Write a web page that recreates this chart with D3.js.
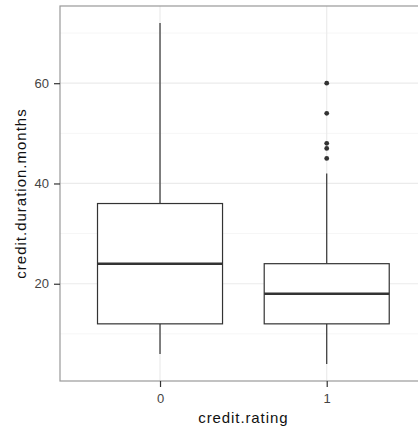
<!DOCTYPE html>
<html>
<head>
<meta charset="utf-8">
<script src="https://cdn.jsdelivr.net/npm/d3@7"></script>
<style>
  html, body { margin: 0; padding: 0; background: #fff; overflow: hidden; }
  svg { display: block; font-family: "Liberation Sans", Arial, sans-serif; }
</style>
</head>
<body>
<svg id="chart" width="418" height="434"></svg>
<script>
// box stats (credit.duration.months by credit.rating)
const categories = ["0", "1"];
const lowerWhisker = [6, 4];
const q1 = [12, 12];
const median = [24, 18];
const q3 = [36, 24];
const upperWhisker = [72, 42];
const outliers = [[], [60, 54, 48, 47, 45]];
const yTicks = [20, 40, 60];
const yMinor = [10, 30, 50, 70];

const svg = d3.select("#chart");
const pLeft = 60, pTop = 6, pBottom = 381;
const step = 166.7;
const pRight = pLeft + step * 2.2;

// ggplot-like discrete scale with 0.6 expansion each side
const x = d3.scaleLinear().domain([0.4, 2.6]).range([pLeft, pRight]);
const y = d3.scaleLinear().domain([0.6, 75.4]).range([pBottom, pTop]);
const boxW = step * 0.75;

const g = svg.append("g");

g.append("rect")
  .attr("x", pLeft).attr("y", pTop)
  .attr("width", pRight - pLeft).attr("height", pBottom - pTop)
  .attr("fill", "#fff");

// grid
g.selectAll(".minor").data(yMinor).enter().append("line")
  .attr("x1", pLeft).attr("x2", pRight)
  .attr("y1", d => y(d)).attr("y2", d => y(d))
  .attr("stroke", "#f6f6f6").attr("stroke-width", 1);
g.selectAll(".major").data(yTicks).enter().append("line")
  .attr("x1", pLeft).attr("x2", pRight)
  .attr("y1", d => y(d)).attr("y2", d => y(d))
  .attr("stroke", "#ebebeb").attr("stroke-width", 1.2);
g.selectAll(".vmajor").data(categories).enter().append("line")
  .attr("x1", (d, i) => x(i + 1)).attr("x2", (d, i) => x(i + 1))
  .attr("y1", pTop).attr("y2", pBottom)
  .attr("stroke", "#ebebeb").attr("stroke-width", 1.2);

// boxes
const boxes = g.selectAll(".box").data(categories).enter().append("g");
boxes.append("line")
  .attr("x1", (d, i) => x(i + 1)).attr("x2", (d, i) => x(i + 1))
  .attr("y1", (d, i) => y(upperWhisker[i])).attr("y2", (d, i) => y(q3[i]))
  .attr("stroke", "#333").attr("stroke-width", 1.2);
boxes.append("line")
  .attr("x1", (d, i) => x(i + 1)).attr("x2", (d, i) => x(i + 1))
  .attr("y1", (d, i) => y(q1[i])).attr("y2", (d, i) => y(lowerWhisker[i]))
  .attr("stroke", "#333").attr("stroke-width", 1.2);
boxes.append("rect")
  .attr("x", (d, i) => x(i + 1) - boxW / 2)
  .attr("y", (d, i) => y(q3[i]))
  .attr("width", boxW)
  .attr("height", (d, i) => y(q1[i]) - y(q3[i]))
  .attr("fill", "#fff").attr("stroke", "#333").attr("stroke-width", 1.2);
boxes.append("line")
  .attr("x1", (d, i) => x(i + 1) - boxW / 2).attr("x2", (d, i) => x(i + 1) + boxW / 2)
  .attr("y1", (d, i) => y(median[i])).attr("y2", (d, i) => y(median[i]))
  .attr("stroke", "#333").attr("stroke-width", 2.4);

categories.forEach((c, i) => {
  g.selectAll(".out" + i).data(outliers[i]).enter().append("circle")
    .attr("cx", x(i + 1)).attr("cy", d => y(d)).attr("r", 2.4)
    .attr("fill", "#333");
});

// border
g.append("rect")
  .attr("x", pLeft).attr("y", pTop)
  .attr("width", pRight - pLeft).attr("height", pBottom - pTop)
  .attr("fill", "none").attr("stroke", "#999").attr("stroke-width", 1.2);

// axes
const yAxis = svg.append("g")
  .attr("transform", `translate(${pLeft},0)`)
  .call(d3.axisLeft(y).tickValues(yTicks).tickSize(6).tickPadding(5));
const xAxis = svg.append("g")
  .attr("transform", `translate(0,${pBottom})`)
  .call(d3.axisBottom(x).tickValues([1, 2]).tickFormat((d, i) => categories[i]).tickSize(6).tickPadding(7));
[yAxis, xAxis].forEach(a => {
  a.select(".domain").remove();
  a.selectAll(".tick line").attr("stroke", "#333").attr("stroke-width", 1.2);
  a.selectAll(".tick text").attr("fill", "#444").style("font-size", "13px");
});

svg.append("text")
  .attr("x", x(1.5)).attr("y", 423)
  .attr("text-anchor", "middle")
  .style("font-size", "15px").style("letter-spacing", "0.9px").attr("fill", "#111")
  .text("credit.rating");
svg.append("text")
  .attr("transform", `translate(26,${(pTop + pBottom) / 2}) rotate(-90)`)
  .attr("text-anchor", "middle")
  .style("font-size", "15px").style("letter-spacing", "1px").attr("fill", "#111")
  .text("credit.duration.months");
</script>
</body>
</html>
